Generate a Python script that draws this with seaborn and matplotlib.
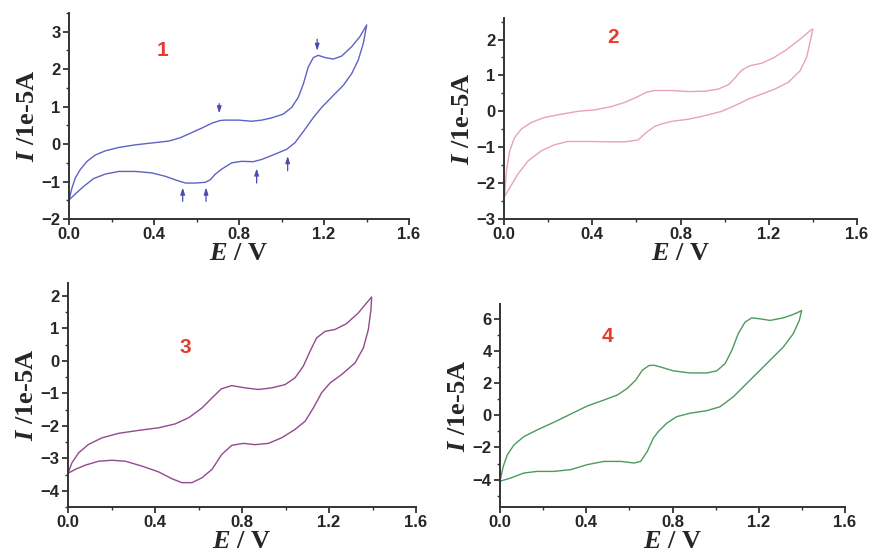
import numpy as np
import pandas as pd
import matplotlib
matplotlib.use("Agg")
import matplotlib.pyplot as plt
import seaborn as sns
from matplotlib.ticker import MultipleLocator

# ---------------- data ----------------
# Panel 1
e1_fwd = [0.0, 0.014, 0.03, 0.053, 0.085, 0.124, 0.171, 0.234, 0.312, 0.406, 0.469, 0.524,
          0.579, 0.626, 0.673, 0.712, 0.734, 0.797, 0.86, 0.907, 0.954, 1.008, 1.048, 1.079,
          1.103, 1.126, 1.15, 1.173, 1.205, 1.244, 1.283, 1.33, 1.369, 1.401]
i1_fwd = [-1.49, -1.17, -0.90, -0.68, -0.46, -0.29, -0.18, -0.09, -0.02, 0.04, 0.08, 0.17,
          0.31, 0.43, 0.56, 0.63, 0.64, 0.64, 0.61, 0.64, 0.70, 0.80, 0.98, 1.25,
          1.61, 2.06, 2.31, 2.37, 2.31, 2.27, 2.35, 2.60, 2.87, 3.18]
e1_rev = [1.401, 1.385, 1.361, 1.33, 1.291, 1.244, 1.189, 1.15, 1.111, 1.064, 1.024, 0.969,
          0.907, 0.867, 0.813, 0.766, 0.718, 0.689, 0.665, 0.642, 0.595, 0.548, 0.508, 0.453,
          0.391, 0.312, 0.234, 0.171, 0.116, 0.069, 0.03, 0.0]
i1_rev = [3.18, 2.69, 2.24, 1.88, 1.57, 1.30, 0.98, 0.71, 0.40, 0.04, -0.14, -0.27,
          -0.41, -0.47, -0.46, -0.50, -0.67, -0.80, -0.95, -1.02, -1.04, -1.04, -0.97, -0.86,
          -0.77, -0.73, -0.73, -0.80, -0.92, -1.13, -1.33, -1.49]

# Panel 2
e2_fwd = [0.0, 0.003, 0.011, 0.026, 0.048, 0.079, 0.124, 0.184, 0.26, 0.335, 0.411, 0.486,
          0.547, 0.60, 0.645, 0.683, 0.76, 0.836, 0.911, 0.971, 1.017, 1.047, 1.078, 1.115,
          1.168, 1.221, 1.274, 1.334, 1.392, 1.40]
i2_fwd = [-2.40, -2.31, -1.66, -1.10, -0.73, -0.49, -0.31, -0.17, -0.08, 0.0, 0.04, 0.13,
          0.25, 0.39, 0.53, 0.58, 0.58, 0.55, 0.56, 0.62, 0.74, 0.93, 1.15, 1.27,
          1.34, 1.49, 1.69, 1.97, 2.27, 2.29]
e2_rev = [1.40, 1.387, 1.372, 1.342, 1.289, 1.228, 1.168, 1.107, 1.047, 0.987, 0.911, 0.836,
          0.76, 0.715, 0.683, 0.645, 0.607, 0.547, 0.471, 0.381, 0.29, 0.23, 0.169, 0.109,
          0.063, 0.026, 0.0]
i2_rev = [2.29, 1.92, 1.51, 1.13, 0.81, 0.62, 0.48, 0.34, 0.16, 0.0, -0.12, -0.22,
          -0.28, -0.35, -0.42, -0.59, -0.80, -0.85, -0.85, -0.84, -0.84, -0.93, -1.10, -1.38,
          -1.75, -2.13, -2.40]

# Panel 3
e3_fwd = [0.0, 0.018, 0.049, 0.095, 0.156, 0.233, 0.325, 0.417, 0.493, 0.555, 0.616, 0.662,
          0.705, 0.753, 0.814, 0.875, 0.937, 0.998, 1.044, 1.082, 1.113, 1.143, 1.182, 1.228,
          1.281, 1.335, 1.396]
i3_fwd = [-3.46, -3.14, -2.83, -2.57, -2.37, -2.23, -2.14, -2.06, -1.94, -1.75, -1.45, -1.14,
          -0.86, -0.76, -0.83, -0.88, -0.83, -0.73, -0.52, -0.16, 0.30, 0.71, 0.91, 0.97,
          1.15, 1.48, 1.97]
e3_rev = [1.396, 1.393, 1.381, 1.358, 1.32, 1.258, 1.205, 1.166, 1.128, 1.09, 1.044, 0.982,
          0.921, 0.86, 0.806, 0.753, 0.707, 0.676, 0.662, 0.616, 0.57, 0.524, 0.478, 0.417,
          0.34, 0.264, 0.202, 0.141, 0.08, 0.034, 0.0]
i3_rev = [1.97, 1.58, 0.97, 0.40, -0.06, -0.42, -0.68, -0.98, -1.45, -1.86, -2.11, -2.37,
          -2.54, -2.58, -2.54, -2.60, -2.88, -3.20, -3.34, -3.60, -3.75, -3.75, -3.63, -3.42,
          -3.24, -3.09, -3.06, -3.09, -3.21, -3.34, -3.46]

# Panel 4
e4_fwd = [0.0, 0.015, 0.034, 0.065, 0.111, 0.173, 0.25, 0.328, 0.405, 0.482, 0.544, 0.59,
          0.629, 0.66, 0.691, 0.714, 0.742, 0.804, 0.881, 0.959, 1.005, 1.044, 1.075, 1.105,
          1.136, 1.168, 1.206, 1.252, 1.314, 1.36, 1.399]
i4_fwd = [-4.10, -3.18, -2.46, -1.84, -1.33, -0.91, -0.44, 0.07, 0.57, 0.94, 1.25, 1.66,
          2.17, 2.79, 3.08, 3.10, 3.0, 2.75, 2.62, 2.62, 2.75, 3.20, 4.02, 5.06,
          5.77, 6.04, 5.98, 5.88, 6.04, 6.25, 6.49]
e4_rev = [1.399, 1.388, 1.36, 1.314, 1.26, 1.206, 1.144, 1.082, 1.02, 0.959, 0.881, 0.82,
          0.773, 0.734, 0.711, 0.683, 0.652, 0.622, 0.56, 0.482, 0.405, 0.328, 0.25, 0.173,
          0.111, 0.05, 0.0]
i4_rev = [6.49, 5.88, 5.06, 4.23, 3.51, 2.79, 1.97, 1.14, 0.52, 0.28, 0.12, -0.09,
          -0.50, -1.02, -1.43, -2.25, -2.87, -2.97, -2.87, -2.87, -3.07, -3.38, -3.49, -3.49,
          -3.59, -3.90, -4.10]

panel_labels = ["1", "2", "3", "4"]
panel_label_pos = [(0.44, 2.5), (0.494, 2.06), (0.538, 0.42), (0.50, 4.89)]
line_colors = ["#5f62c4", "#eaa2b6", "#93498f", "#4c9a5e"]
y_limits = [(-2, 3.5), (-3, 2.6), (-4.5, 2.4), (-5.7, 6.9)]
y_major = [1, 1, 1, 2]
y_minor = [0.5, 0.5, 0.5, 1]

# arrows in panel 1: (E, I_tail, I_head)
arrow_e = [0.707, 1.168, 0.535, 0.645, 0.883, 1.029]
arrow_tail = [1.08, 2.80, -1.53, -1.53, -1.04, -0.71]
arrow_head = [0.82, 2.49, -1.16, -1.16, -0.65, -0.32]

# ---------------- style ----------------
sns.set_theme(style="ticks")
plt.rcParams['font.family'] = ['Liberation Sans', 'DejaVu Sans']
plt.rcParams['mathtext.fontset'] = 'custom'
plt.rcParams['mathtext.it'] = 'Liberation Serif:italic:bold'
plt.rcParams['mathtext.rm'] = 'Liberation Serif:bold'

fig = plt.figure(figsize=(8.72, 5.58), dpi=100)
W, H = 872, 558
boxes = [(69, 409, 13, 219), (504, 857, 18, 219), (68, 416, 283, 507), (500, 845, 304, 507)]

data = [(e1_fwd, i1_fwd, e1_rev, i1_rev), (e2_fwd, i2_fwd, e2_rev, i2_rev),
        (e3_fwd, i3_fwd, e3_rev, i3_rev), (e4_fwd, i4_fwd, e4_rev, i4_rev)]

for k in range(4):
    l, r, t, b = boxes[k]
    ax = fig.add_axes([l / W, (H - b) / H, (r - l) / W, (b - t) / H])
    ef, i_f, er, ir = data[k]
    df = pd.DataFrame({"E": list(ef) + list(er), "I": list(i_f) + list(ir)})
    sns.lineplot(data=df, x="E", y="I", sort=False, estimator=None, ax=ax,
                 color=line_colors[k], lw=1.0, solid_joinstyle="round")
    ax.set_xlim(0, 1.6)
    ax.set_ylim(*y_limits[k])
    ax.xaxis.set_minor_locator(MultipleLocator(0.2))
    ax.yaxis.set_major_locator(MultipleLocator(y_major[k]))
    ax.yaxis.set_minor_locator(MultipleLocator(y_minor[k]))
    ax.set_xticks(np.arange(0, 1.61, 0.4))
    ax.set_xticklabels(["0.0", "0.4", "0.8", "1.2", "1.6"])
    for s in ["top", "right"]:
        ax.spines[s].set_visible(False)
    for s in ["left", "bottom"]:
        ax.spines[s].set_linewidth(1.4)
        ax.spines[s].set_color("#333333")
    ax.tick_params(which="major", direction="out", length=4, width=1.3, color="#333333",
                   labelsize=12, pad=2)
    ax.tick_params(which="minor", direction="out", length=2.5, width=1.0, color="#333333")
    for lab in ax.get_xticklabels() + ax.get_yticklabels():
        lab.set_fontweight("bold")
    ax.set_xlabel("$E$ / V", fontfamily="Liberation Serif", fontweight="bold",
                  fontsize=19, labelpad=0)
    ax.set_ylabel("$I$ /1e-5A", fontfamily="Liberation Serif", fontweight="bold",
                  fontsize=19, labelpad=2)
    ax.text(*panel_label_pos[k], panel_labels[k], color="#e63b2e", fontsize=15,
            fontweight="bold", ha="center", va="center")
    ax.set_facecolor("white")
    if k == 0:
        for xe, yt, yh in zip(arrow_e, arrow_tail, arrow_head):
            ax.annotate("", xy=(xe, yh), xytext=(xe, yt),
                        arrowprops=dict(arrowstyle="-|>,head_length=0.4,head_width=0.13",
                                        color="#4a4cb0", lw=0.9, shrinkA=0, shrinkB=0,
                                        mutation_scale=10))

fig.savefig("out.png", dpi=100, facecolor="white")
